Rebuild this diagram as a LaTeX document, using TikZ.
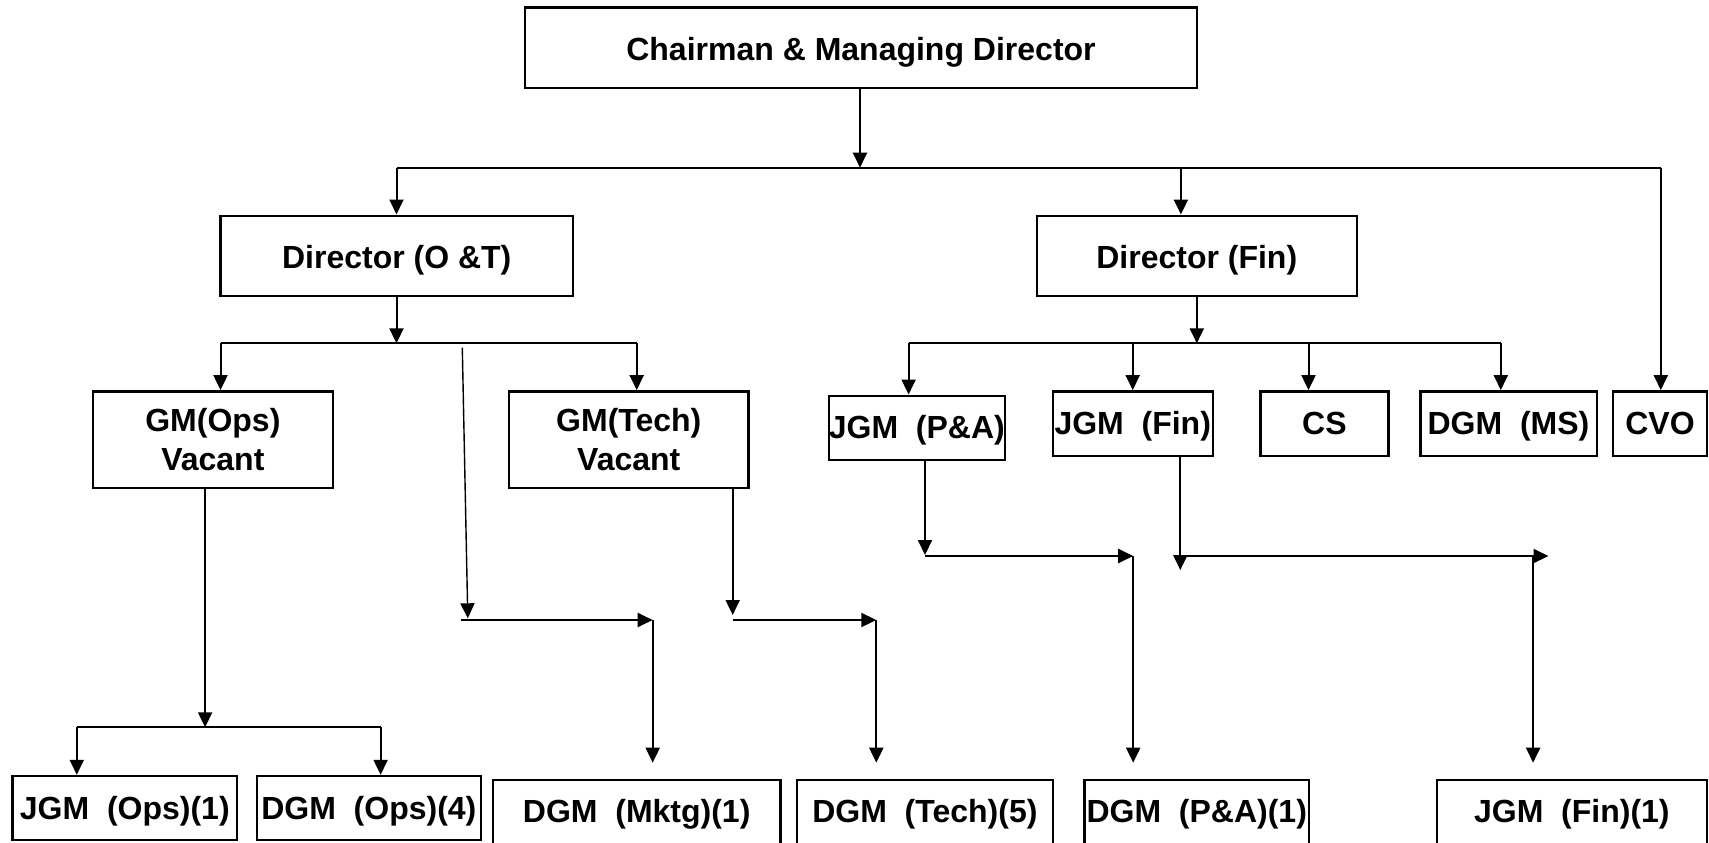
\documentclass[tikz,border=0pt]{standalone}
\usepackage{fontspec}
\setmainfont{Liberation Sans}
\usetikzlibrary{arrows.meta}
\tikzset{
  orgbox/.style={draw, line width=1.2pt, inner sep=0pt, align=center,
    font=\bfseries\fontsize{16}{19.2}\selectfont, text height=11pt, text depth=0pt},
  toptext/.style={text height=12.8pt, text depth=0pt},
  twoline/.style={text height=30.4pt, text depth=0pt},
  lowtext/.style={text height=11pt, text depth=2.2pt},
  conn/.style={line width=1pt},
  arr/.style={line width=1pt, -{Triangle[length=7.5pt,width=7pt]}},
  thinarr/.style={line width=0.7pt, -{Triangle[length=7.5pt,width=7pt]}},
}
\newcommand\orgnode[7][]{%
  \node[orgbox, #1, minimum width={(#5-#3)*0.5pt}, minimum height={(#6-#4)*0.5pt}]
    (#2) at ({(#3+#5)/2},{(#4+#6)/2}) {#7};}
\begin{document}
\begin{tikzpicture}[x=0.5pt,y=-0.5pt]
\useasboundingbox (0,0) rectangle (1709,842);
\clip (0,0) rectangle (1709,842);
% boxes
\orgnode[toptext]{cmd}{525}{7.5}{1197}{88}{Chairman \& Managing Director}
\orgnode[toptext]{dot}{220.5}{215.7}{573}{295.7}{Director (O \&T)}
\orgnode[toptext]{dfin}{1036.8}{215.7}{1356.7}{295.7}{Director (Fin)}
\orgnode[twoline]{gmops}{92.7}{391.3}{333}{488}{GM(Ops)\\Vacant}
\orgnode[twoline]{gmtech}{509}{391.3}{748.6}{488}{GM(Tech)\\Vacant}
\orgnode{jgmpa}{828.7}{395.7}{1005}{460}{JGM\ \ (P\&A)}
\orgnode{jgmfin}{1052.7}{391.3}{1212.7}{455.7}{JGM\ \ (Fin)}
\orgnode{cs}{1260.3}{391.3}{1388.5}{455.7}{CS}
\orgnode{dgmms}{1420.3}{391.3}{1596.7}{455.7}{DGM\ \ (MS)}
\orgnode{cvo}{1613.1}{391.3}{1707}{455.7}{CVO}
\orgnode{jgmops}{12.6}{776}{237}{840}{JGM\ \ (Ops)(1)}
\orgnode{dgmops}{256.7}{776}{481}{840}{DGM\ \ (Ops)(4)}
\orgnode[lowtext]{dgmmktg}{493}{780}{780.4}{848}{DGM\ \ (Mktg)(1)}
\orgnode[lowtext]{dgmtech}{797}{780}{1052.7}{848}{DGM\ \ (Tech)(5)}
\orgnode[lowtext]{dgmpa}{1084.5}{780}{1309}{848}{DGM\ \ (P\&A)(1)}
\orgnode[lowtext]{jgmfinone}{1436.7}{780}{1707}{848}{JGM\ \ (Fin)(1)}
% junction coordinates
\coordinate (busA) at (860,167.7);
\coordinate (aL) at (396.5,167.7);
\coordinate (aF) at (1180.9,167.7);
\coordinate (aR) at (1660.8,167.7);
\coordinate (busB) at (396.5,343.3);
\coordinate (bL) at (220.5,343.3);
\coordinate (bR) at (636.7,343.3);
\coordinate (busC) at (1196.8,343.3);
\coordinate (c1) at (908.6,343.3);
\coordinate (c2) at (1132.7,343.3);
\coordinate (c3) at (1308.5,343.3);
\coordinate (c4) at (1500.8,343.3);
\coordinate (busD) at (205.1,727.3);
\coordinate (d1) at (76.8,727.3);
\coordinate (d2) at (380.6,727.3);
\coordinate (s0) at (462.3,347.7);
\coordinate (s1) at (467.8,618.3);
\coordinate (h1a) at (460.7,620);
\coordinate (h1b) at (652.7,620);
\coordinate (v1) at (652.7,762.7);
\coordinate (t0) at (732.7,615);
\coordinate (h2a) at (732.7,620);
\coordinate (h2b) at (876.3,620);
\coordinate (v2) at (876.3,762.7);
\coordinate (p0) at (925,555);
\coordinate (h3a) at (925,556);
\coordinate (h3b) at (1133.2,556);
\coordinate (v3) at (1133.2,762.7);
\coordinate (f0) at (1180.3,570);
\coordinate (h4a) at (1180.3,556);
\coordinate (h4b) at (1548.5,556);
\coordinate (h4c) at (1533.1,556);
\coordinate (v4) at (1533.1,762.7);
% level 1
\draw[arr] (cmd.south -| busA) -- (busA);
\draw[conn] (aL) -- (aR);
\draw[arr] (aL) -- (aL |- dot.north);
\draw[arr] (aF) -- (aF |- dfin.north);
\draw[arr] (aR) -- (aR |- cvo.north);
% O&T
\draw[arr] (dot.south -| busB) -- (busB);
\draw[conn] (bL) -- (bR);
\draw[arr] (bL) -- (bL |- gmops.north);
\draw[arr] (bR) -- (bR |- gmtech.north);
% Fin
\draw[arr] (dfin.south -| busC) -- (busC);
\draw[conn] (c1) -- (c4);
\draw[arr] (c1) -- (c1 |- jgmpa.north);
\draw[arr] (c2) -- (c2 |- jgmfin.north);
\draw[arr] (c3) -- (c3 |- cs.north);
\draw[arr] (c4) -- (c4 |- dgmms.north);
% GM(Ops)
\draw[arr] (gmops.south -| busD) -- (busD);
\draw[conn] (d1) -- (d2);
\draw[arr] (d1) -- (d1 |- jgmops.north);
\draw[arr] (d2) -- (d2 |- dgmops.north);
% Mktg
\draw[thinarr] (s0) -- (s1);
\draw[arr] (h1a) -- (h1b);
\draw[arr] (h1b) -- (v1);
% Tech
\draw[arr] (gmtech.south -| t0) -- (t0);
\draw[arr] (h2a) -- (h2b);
\draw[arr] (h2b) -- (v2);
% P&A
\draw[arr] (jgmpa.south -| p0) -- (p0);
\draw[arr] (h3a) -- (h3b);
\draw[arr] (h3b) -- (v3);
% Fin(1)
\draw[arr] (jgmfin.south -| f0) -- (f0);
\draw[arr] (h4a) -- (h4b);
\draw[arr] (h4c) -- (v4);
\end{tikzpicture}
\end{document}
